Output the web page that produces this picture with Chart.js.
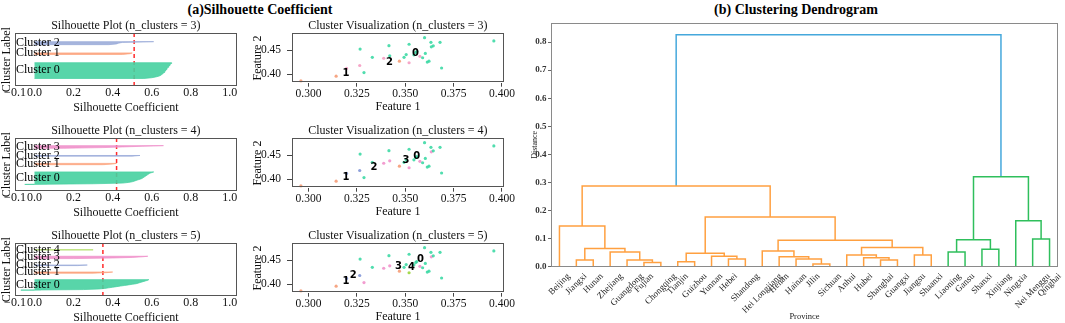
<!DOCTYPE html>
<html><head><meta charset="utf-8">
<script src="https://cdn.jsdelivr.net/npm/chart.js@4.4.1/dist/chart.umd.min.js"></script>
<style>
html,body{margin:0;padding:0;background:#fff;}
body{width:1065px;height:323px;position:relative;overflow:hidden;}
canvas{position:absolute;}
.hd{position:absolute;font:bold 14px "Liberation Serif",serif;white-space:nowrap;text-align:center;line-height:18px;color:#000;}
</style></head><body>
<div class="hd" style="left:160px;top:1px;width:200px;">(a)Silhouette Coefficient</div>
<div class="hd" style="left:696px;top:1px;width:200px;">(b) Clustering Dendrogram</div>
<canvas id="sil0" width="245" height="100" style="left:0;top:18px"></canvas>
<canvas id="sil1" width="245" height="100" style="left:0;top:123px"></canvas>
<canvas id="sil2" width="245" height="100" style="left:0;top:228px"></canvas>
<canvas id="sc0" width="270" height="100" style="left:245px;top:18px"></canvas>
<canvas id="sc1" width="270" height="100" style="left:245px;top:123px"></canvas>
<canvas id="sc2" width="270" height="100" style="left:245px;top:228px"></canvas>
<canvas id="dend" width="535" height="323" style="left:530px;top:0"></canvas>
<script>
// ---------------- DATA ----------------
const clusterCounts = [3, 4, 5];
const silAverage = [0.51, 0.42, 0.35];
const silTicks = [-0.1, 0.0, 0.2, 0.4, 0.6, 0.8, 1.0];
// sorted silhouette values per cluster (ascending)
const silK3 = [
  [0.56,0.60,0.62,0.635,0.645,0.65,0.655,0.66,0.663,0.666,0.669,0.672,0.675,0.678,0.681,0.684,0.687,0.69,0.693,0.696,0.699,0.702],
  [0.45,0.49,0.50],
  [0.38,0.42,0.43,0.45,0.61]
];
const silK4 = [
  [-0.05,0.30,0.45,0.48,0.50,0.51,0.52,0.53,0.54,0.55,0.555,0.56,0.565,0.57,0.575,0.58,0.585,0.59,0.60,0.61],
  [0.35,0.40,0.42],
  [0.50,0.54],
  [0.15,0.35,0.45,0.55,0.66]
];
const silK5 = [
  [-0.07,0.25,0.33,0.36,0.38,0.40,0.42,0.44,0.46,0.48,0.50,0.52,0.53,0.54,0.55,0.56,0.57,0.58,0.585],
  [0.30,0.37,0.40],
  [0.22,0.27],
  [0.20,0.40,0.50,0.55,0.58],
  [0.30]
];

const featX = [0.2961,0.3143,0.3197,0.3265,0.3267,0.3287,0.3330,0.3389,0.3416,0.3420,0.3470,0.3494,0.3520,0.3520,0.3576,0.3555,0.3590,0.3600,0.3604,0.3614,0.3623,0.3633,0.3635,0.3645,0.3680,0.3688,0.3958,0.3545,0.3560,0.3505];
const featY = [0.386,0.396,0.412,0.418,0.452,0.4034,0.435,0.433,0.459,0.438,0.427,0.435,0.4237,0.462,0.437,0.445,0.434,0.4755,0.443,0.425,0.427,0.466,0.4567,0.4587,0.466,0.4128,0.4688,0.440,0.447,0.4405];
const labelsK3 = [1,1,2,2,0,0,0,2,0,0,1,0,2,0,2,0,0,0,0,0,0,0,0,0,0,0,0,0,0,0];
const labelsK4 = [1,1,2,2,0,0,0,3,0,3,1,0,3,0,3,0,0,0,0,0,0,0,3,0,0,0,0,0,0,0];
const labelsK5 = [1,1,2,2,0,3,0,3,0,3,1,0,4,0,3,0,0,0,0,0,0,0,3,0,0,0,0,0,0,0];
const centersK3X = [0.3553,0.3194,0.3419];
const centersK3Y = [0.4439,0.4026,0.4249];
const centersK4X = [0.3559,0.3194,0.3338,0.3504];
const centersK4Y = [0.4472,0.4047,0.4249,0.4399];
const centersK5X = [0.3579,0.3194,0.3232,0.3465,0.3533];
const centersK5Y = [0.4520,0.4067,0.4182,0.4364,0.4338];
const featXTicks = [0.300,0.325,0.350,0.375,0.400];
const featYTicks = [0.40,0.45];

const leaves = ["Beijing","Jiangxi","Hunan","Zhejiang","Guangdong","Fujian","Chongqing","Tianjin","Guizhou","Yunnan","Hebei","Shandong","Hei Longjiang","Henan","Hainan","Jilin","Sichuan","Anhui","Hubei","Shanghai","Guangxi","Jiangsu","Shaanxi","Liaoning","Gansu","Shanxi","Xinjiang","Ningxia","Nei Menggu","Qinghai"];
// merges: [nodeA, nodeB, height]; node ids >= 30 refer to earlier merges (30 + row)
const merges = [
  [5,6,0.015],[4,30,0.024],[3,31,0.052],[1,2,0.024],[33,32,0.065],[0,34,0.145],
  [7,8,0.018],[10,11,0.027],[9,37,0.037],[36,38,0.048],
  [15,16,0.010],[14,40,0.027],[13,41,0.035],[12,42,0.056],
  [19,20,0.024],[18,44,0.032],[17,45,0.042],[21,22,0.042],[46,47,0.068],
  [43,48,0.094],[39,49,0.177],[35,50,0.287],
  [23,24,0.052],[25,26,0.062],[52,53,0.096],[28,29,0.099],[27,55,0.164],[54,56,0.320],
  [51,57,0.826]
];
const distTicks = [0.0,0.1,0.2,0.3,0.4,0.5,0.6,0.7,0.8];

// ---------------- STYLE ----------------
const SERIF = '"Liberation Serif","Times New Roman",serif';
const silFill = ['rgba(70,208,160,0.9)','rgba(252,160,120,0.85)','rgba(150,168,215,0.85)','rgba(238,140,200,0.85)','rgba(170,218,90,0.9)'];
const scatColorsK3 = ['rgba(50,215,160,0.85)','rgba(245,150,110,0.85)','rgba(245,150,190,0.85)'];
const scatColors = ['rgba(50,215,160,0.85)','rgba(245,150,110,0.85)','rgba(130,150,215,0.9)','rgba(240,140,200,0.85)','rgba(160,215,70,0.95)'];

const boxPlugin = {
  id:'box',
  afterDraw(chart, args, opts){
    const {ctx, chartArea:a} = chart;
    ctx.save();
    ctx.strokeStyle = opts.color || '#444';
    ctx.lineWidth = opts.width || 1;
    ctx.strokeRect(Math.round(a.left)+0.5, Math.round(a.top)+0.5, Math.round(a.right-a.left)-1, Math.round(a.bottom-a.top)-1);
    ctx.restore();
  }
};

function fmtMinus(s){ return s.replace('-', '\u2212'); }

function silChart(id, k, values, avg){
  const datasets = [];
  const labelPos = [];
  let yl = 10;
  values.forEach((vals, c) => {
    const pts = [{x:0, y:yl}];
    vals.forEach((v, i) => pts.push({x:v, y:yl+i}));
    pts.push({x:0, y:yl+vals.length-1});
    datasets.push({data:pts, showLine:true, fill:'shape', backgroundColor:silFill[c], borderColor:silFill[c], borderWidth:0.8, pointRadius:0, tension:0});
    labelPos.push(yl + vals.length/2);
    yl += vals.length + 10;
  });
  const total = yl;
  datasets.push({data:[{x:avg,y:0},{x:avg,y:total}], showLine:true, fill:false, borderColor:'#ff2a2a', borderDash:[4,3], borderWidth:1.5, pointRadius:0});
  const textPlugin = {
    id:'clusterText',
    afterDatasetsDraw(chart){
      const {ctx} = chart; const xs = chart.scales.x, ys = chart.scales.y;
      ctx.save();
      ctx.font = '12px ' + SERIF; ctx.fillStyle = '#000'; ctx.textAlign = 'left'; ctx.textBaseline = 'middle';
      labelPos.forEach((y, c) => ctx.fillText('Cluster ' + c, xs.getPixelForValue(-0.095), ys.getPixelForValue(y)));
      ctx.restore();
    }
  };
  new Chart(document.getElementById(id), {
    type:'scatter',
    data:{datasets},
    plugins:[textPlugin, boxPlugin],
    options:{
      responsive:false, animation:false, events:[], devicePixelRatio:1,
      layout:{padding:{left:0,right:8.3,top:0,bottom:3}},
      plugins:{
        legend:{display:false}, tooltip:{enabled:false},
        title:{display:true, text:'Silhouette Plot (n_clusters = ' + k + ')', fullSize:false, color:'#111', font:{family:SERIF,size:12,weight:'normal'}, padding:{top:1,bottom:0}},
        box:{color:'#555', width:1}
      },
      scales:{
        x:{type:'linear', min:-0.1, max:1.035,
           afterBuildTicks:s=>{ s.ticks = silTicks.map(v=>({value:v})); },
           ticks:{autoSkip:false, maxRotation:0, padding:0, color:'#111', font:{family:SERIF,size:12}, callback:v=>fmtMinus(v.toFixed(1))},
           grid:{display:false, drawTicks:false}, border:{display:false},
           title:{display:true, text:'Silhouette Coefficient', color:'#111', font:{family:SERIF,size:12}, padding:{top:0,bottom:0}},
           afterFit:s=>{ s.height = 29; }},
        y:{type:'linear', min:0, max:total,
           ticks:{display:false}, grid:{display:false, drawTicks:false}, border:{display:false},
           title:{display:true, text:'Cluster Label', color:'#111', font:{family:SERIF,size:12}, padding:{top:0,bottom:0}},
           afterFit:s=>{ s.width = 15; }}
      }
    }
  });
}

function scatChart(id, k, labels, cx, cy, colors){
  const datasets = [];
  for (let c = 0; c < k; c++){
    const pts = [];
    featX.forEach((x, i) => { if (labels[i] === c) pts.push({x, y:featY[i]}); });
    datasets.push({data:pts, backgroundColor:colors[c], borderWidth:0, pointRadius:1.6});
  }
  const centerPlugin = {
    id:'centers',
    afterDatasetsDraw(chart){
      const {ctx} = chart; const xs = chart.scales.x, ys = chart.scales.y;
      ctx.save();
      ctx.font = 'bold 10px "DejaVu Sans",sans-serif'; ctx.fillStyle = '#000'; ctx.textAlign = 'center'; ctx.textBaseline = 'middle';
      cx.forEach((x, c) => ctx.fillText(String(c), xs.getPixelForValue(x), ys.getPixelForValue(cy[c])));
      ctx.restore();
    }
  };
  new Chart(document.getElementById(id), {
    type:'scatter',
    data:{datasets},
    plugins:[centerPlugin, boxPlugin],
    options:{
      responsive:false, animation:false, events:[], devicePixelRatio:1,
      layout:{padding:{left:0,right:8,top:0,bottom:4.3}},
      plugins:{
        legend:{display:false}, tooltip:{enabled:false},
        title:{display:true, text:'Cluster Visualization (n_clusters = ' + k + ')', fullSize:false, color:'#111', font:{family:SERIF,size:12,weight:'normal'}, padding:{top:1,bottom:0}},
        box:{color:'#555', width:1}
      },
      scales:{
        x:{type:'linear', min:0.2915, max:0.401,
           afterBuildTicks:s=>{ s.ticks = featXTicks.map(v=>({value:v})); },
           ticks:{autoSkip:false, maxRotation:0, padding:0, color:'#111', font:{family:SERIF,size:11.5}, callback:v=>v.toFixed(3)},
           grid:{drawOnChartArea:false, drawTicks:true, tickLength:4, color:'#444'}, border:{display:false},
           title:{display:true, text:'Feature 1', color:'#111', font:{family:SERIF,size:12}, padding:{top:0,bottom:0}},
           afterFit:s=>{ s.height = 31; }},
        y:{type:'linear', min:0.3824, max:0.4844,
           afterBuildTicks:s=>{ s.ticks = featYTicks.map(v=>({value:v})); },
           ticks:{autoSkip:false, padding:6, color:'#111', font:{family:SERIF,size:11.5}, callback:v=>v.toFixed(2)},
           grid:{drawOnChartArea:false, drawTicks:true, tickLength:5, color:'#444'}, border:{display:false},
           title:{display:true, text:'Feature 2', color:'#111', font:{family:SERIF,size:12}, padding:{top:5.8,bottom:0}},
           afterFit:s=>{ s.width = 47; }}
      }
    }
  });
}

const silAll = [silK3, silK4, silK5];
clusterCounts.forEach((k, r) => silChart('sil' + r, k, silAll[r], silAverage[r]));
scatChart('sc0', 3, labelsK3, centersK3X, centersK3Y, scatColorsK3);
scatChart('sc1', 4, labelsK4, centersK4X, centersK4Y, scatColors);
scatChart('sc2', 5, labelsK5, centersK5X, centersK5Y, scatColors);

// ---------------- DENDROGRAM ----------------
(function(){
  const nLeaf = leaves.length;
  const nodeX = [], nodeH = [];
  for (let i = 0; i < nLeaf; i++){ nodeX[i] = 5 + 10*i; nodeH[i] = 0; }
  merges.forEach(([a,b,h], r) => { nodeX[nLeaf+r] = (nodeX[a]+nodeX[b])/2; nodeH[nLeaf+r] = h; });
  const root = nLeaf + merges.length - 1;
  const threshold = 0.7 * Math.max(...merges.map(m => m[2]));
  const palette = ['#ffa040','#2fbf5c'];
  const aboveColor = '#45a8dc';
  const nodeColor = {};
  let pi = 0;
  function paint(node, color){ if (node < nLeaf) return; nodeColor[node] = color; const [a,b] = merges[node-nLeaf]; paint(a,color); paint(b,color); }
  function assign(node){
    if (node < nLeaf) return;
    if (nodeH[node] <= threshold){ paint(node, palette[pi++ % palette.length]); return; }
    nodeColor[node] = aboveColor;
    const [a,b] = merges[node-nLeaf];
    const [l,r] = nodeX[a] < nodeX[b] ? [a,b] : [b,a];
    assign(l); assign(r);
  }
  assign(root);
  const datasets = merges.map(([a,b,h], r) => ({
    data:[{x:nodeX[a],y:nodeH[a]},{x:nodeX[a],y:h},{x:nodeX[b],y:h},{x:nodeX[b],y:nodeH[b]}],
    showLine:true, fill:false, borderColor:nodeColor[nLeaf+r], borderWidth:1.5, pointRadius:0
  }));
  const leafPlugin = {
    id:'leafLabels',
    afterDraw(chart){
      const {ctx, chartArea:a} = chart; const xs = chart.scales.x;
      ctx.save();
      ctx.font = '9px ' + SERIF; ctx.fillStyle = '#222'; ctx.textAlign = 'center'; ctx.textBaseline = 'middle';
      leaves.forEach((name, i) => {
        const x = xs.getPixelForValue(nodeX[i]);
        const w = ctx.measureText(name).width;
        const half = (w + 9) * Math.SQRT1_2 / 2;
        ctx.save(); ctx.translate(x, a.bottom + 5 + half); ctx.rotate(-Math.PI/4); ctx.fillText(name, 0, 0); ctx.restore();
      });
      ctx.restore();
    }
  };
  new Chart(document.getElementById('dend'), {
    type:'scatter',
    data:{datasets},
    plugins:[leafPlugin, boxPlugin],
    options:{
      responsive:false, animation:false, events:[], devicePixelRatio:1,
      layout:{padding:{left:0,right:7,top:23,bottom:0}},
      plugins:{legend:{display:false}, tooltip:{enabled:false}, box:{color:'#8a8a8a', width:1}},
      scales:{
        x:{type:'linear', min:0, max:nLeaf*10,
           ticks:{display:false}, grid:{display:false, drawTicks:false}, border:{display:false},
           title:{display:true, text:'Province', color:'#222', font:{family:SERIF,size:8.5}, padding:{top:0,bottom:1.2}},
           afterFit:s=>{ s.height = 56.3; }},
        y:{type:'linear', min:0, max:0.868,
           afterBuildTicks:s=>{ s.ticks = distTicks.map(v=>({value:v})); },
           ticks:{autoSkip:false, padding:1.5, color:'#333', font:{family:SERIF,size:9,weight:'bold'}, callback:v=>v.toFixed(1)},
           grid:{drawOnChartArea:false, drawTicks:true, tickLength:3, color:'#666'}, border:{display:false},
           title:{display:true, text:'Distance', color:'#222', font:{family:SERIF,size:8}, padding:{top:0,bottom:0}},
           afterFit:s=>{ s.width = 21; }}
      }
    }
  });
})();
</script>
</body></html>
